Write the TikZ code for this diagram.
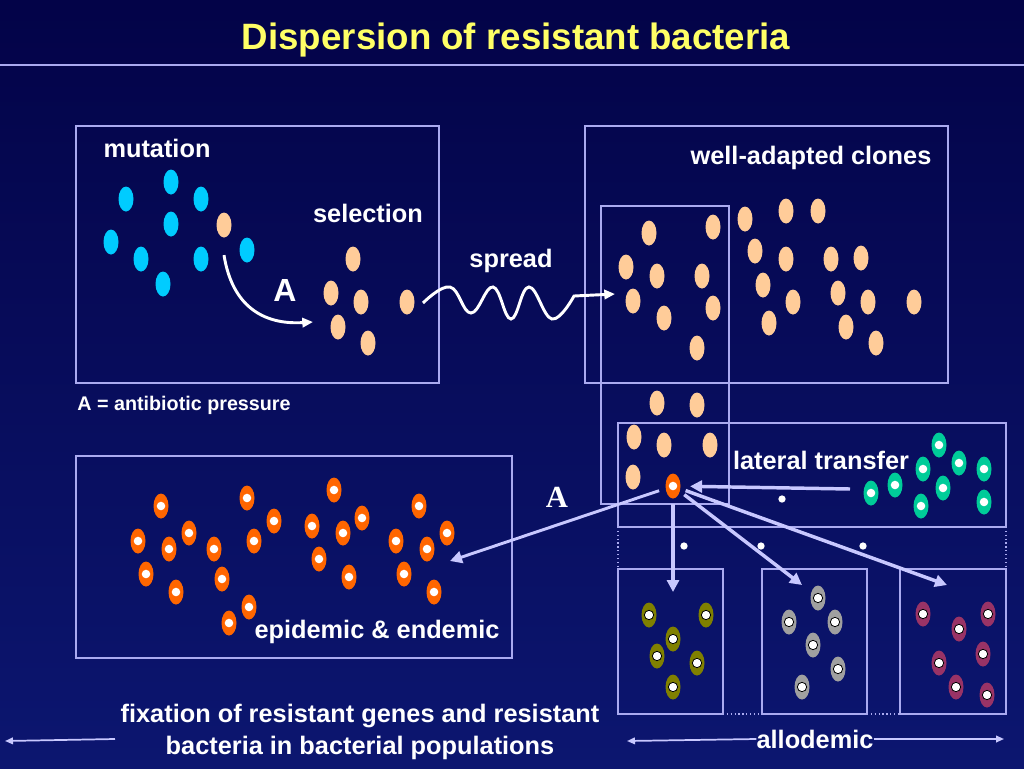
\documentclass[tikz,border=0pt]{standalone}
\usepackage{fontspec}
\setmainfont{Liberation Sans}
\newfontfamily\serifA{Liberation Serif}
\usetikzlibrary{shapes.geometric,arrows.meta,positioning}

\definecolor{bgtop}{RGB}{3,3,72}
\definecolor{bgbot}{RGB}{12,22,112}
\definecolor{boxline}{RGB}{170,170,240}
\definecolor{flowc}{RGB}{200,200,255}
\definecolor{titley}{RGB}{255,255,102}
\definecolor{cyanc}{RGB}{0,204,255}
\definecolor{peach}{RGB}{255,204,153}
\definecolor{orangec}{RGB}{255,102,0}
\definecolor{tealc}{RGB}{0,204,153}
\definecolor{olivec}{RGB}{128,128,0}
\definecolor{greyc}{RGB}{160,160,160}
\definecolor{plumc}{RGB}{153,51,102}

\tikzset{
  cell/.style={ellipse, minimum width=11.25pt, minimum height=18.75pt, inner sep=0pt},
  dotcell/.style={cell, fill=#1, path picture={\fill[white] (path picture bounding box.center) circle (3.2pt);}},
  ringcell/.style={cell, fill=#1, path picture={\filldraw[fill=white, draw=black, line width=0.6pt] (path picture bounding box.center) circle (3.5pt);}},
  box/.style={draw=boxline, line width=0.9pt},
  lbl/.style={text=white, inner sep=0pt, font=\fontsize{19}{24}\selectfont\bfseries},
  spot/.style={circle, fill=white, inner sep=0pt, minimum size=5.5pt},
  flow/.style={draw=flowc, line width=2.6pt, -{Triangle[length=9pt, width=9pt]}},
  flowthin/.style={draw=flowc, line width=1.3pt, -{Triangle[length=6pt, width=5pt]}},
  wiggle/.style={draw=white, line width=2.2pt, -{Triangle[length=8pt, width=7pt]}}
}

\begin{document}
\begin{tikzpicture}[x=0.75pt, y=-0.75pt]
  \shade[top color=bgtop, bottom color=bgbot] (0,0) rectangle (1024,768);
  \useasboundingbox (0,0) rectangle (1024,768);

  \node[text=titley, font=\fontsize{27.5}{33}\selectfont\bfseries] (title) at (516,40) {Dispersion of resistant bacteria};
  \draw[draw=boxline, line width=2pt] (0,65) -- (1024,65);

  \draw[box] (76,126) rectangle (439,383);
  \draw[box] (585,126) rectangle (948,383);
  \draw[box] (601,206) rectangle (729,504);
  \draw[box] (618,423) rectangle (1006,527);
  \draw[box] (76,456) rectangle (512,658);
  \draw[box] (618,569) rectangle (723,714);
  \draw[box] (762,569) rectangle (867,714);
  \draw[box] (900,569) rectangle (1006,714);
  \draw[box, dotted] (618,527) -- (618,569) (1006,527) -- (1006,569) (723,714) -- (762,714) (867,714) -- (900,714);

  \foreach \x/\y [count=\i] in {126/199, 171/182, 201/199, 171/224, 111/242, 141/259, 201/259, 163/284, 247/250}
    \node[cell, fill=cyanc] (mut\i) at (\x,\y) {};
  \node[cell, fill=peach] (mutant) at (224,225) {};
  \foreach \x/\y [count=\i] in {353/259, 331/293, 361/302, 407/302, 338/327, 368/343}
    \node[cell, fill=peach] (sel\i) at (\x,\y) {};

  \node[lbl] (mutation) at (157,148) {mutation};
  \node[lbl] (selection) at (368,213) {selection};
  \node[lbl, font=\fontsize{24}{28}\selectfont\bfseries] (pressA) at (285,290) {A};
  \node[lbl, font=\fontsize{14.8}{18}\selectfont\bfseries] (legend) at (184,405) {A = antibiotic pressure};

  \coordinate (selIn) at (313,322);
  \draw[wiggle] ([yshift=-13pt]mutant.south) .. controls (232,305) and (262,325) .. (selIn);

  \coordinate (spreadOut) at (423,303);
  \coordinate (spreadIn) at (615,294);
  \node[lbl] (spread) at (511,261) {spread};
  \draw[wiggle] plot[smooth, tension=0.7] coordinates {(spreadOut) (450,287) (471,313) (493,287) (511,319) (529,287) (552,319) (574,296)} -- (spreadIn);

  \node[lbl] (clones) at (811,158) {well-adapted clones};
  \foreach \x/\y [count=\i] in {649/233, 713/227, 626/267, 657/276, 702/276, 633/301, 713/308, 664/318, 697/348,
      657/403, 697/405, 634/437, 664/445, 710/445, 633/477}
    \node[cell, fill=peach] (clin\i) at (\x,\y) {};
  \foreach \x/\y [count=\i] in {745/219, 786/211, 818/211, 755/251, 786/259, 831/259, 861/258, 763/285,
      793/302, 838/293, 868/302, 914/302, 769/323, 846/327, 876/343}
    \node[cell, fill=peach] (clout\i) at (\x,\y) {};

  \node[dotcell=orangec] (res) at (673,486) {};

  \node[lbl] (lateral) at (821,460) {lateral transfer};
  \foreach \x/\y [count=\i] in {871/493, 895/485, 939/445, 923/469, 959/463, 943/488, 921/506, 984/469, 984/502}
    \node[dotcell=tealc] (donor\i) at (\x,\y) {};
  \coordinate (donor) at (850,489);
  \draw[flow, shorten >=7pt] (donor) -- (res);

  \node[spot] (spot1) at (782,499) {};
  \node[spot] (spot2) at (684,546) {};
  \node[spot] (spot3) at (761,546) {};
  \node[spot] (spot4) at (863,546) {};

  \node[text=white, font=\serifA\fontsize{23}{28}\selectfont\bfseries] (antiA) at (557,497) {A};

  \foreach \x/\y [count=\i] in {161/506, 138/541, 169/549, 189/533, 146/574, 176/592, 214/549, 222/579,
      247/498, 274/521, 254/541, 249/607, 229/623, 334/490, 312/526, 343/533, 362/518, 319/559,
      349/577, 419/506, 396/541, 427/549, 447/533, 404/574, 434/592}
    \node[dotcell=orangec] (epi\i) at (\x,\y) {};
  \node[lbl] (epidemic) at (377,632) {epidemic \& endemic};
  \coordinate (epiIn) at (450,561);
  \draw[flow, line width=2.2pt, shorten <=5pt] (res) -- (epiIn);

  \foreach \x/\y [count=\i] in {649/615, 706/615, 673/639, 657/656, 697/663, 673/687}
    \node[ringcell=olivec] (ol\i) at (\x,\y) {};
  \foreach \x/\y [count=\i] in {818/598, 789/622, 835/622, 813/645, 838/669, 802/687}
    \node[ringcell=greyc] (gr\i) at (\x,\y) {};
  \foreach \x/\y [count=\i] in {923/614, 988/614, 959/629, 983/654, 939/663, 956/687, 987/695}
    \node[ringcell=plumc] (pl\i) at (\x,\y) {};

  \coordinate (olIn) at (673,592);
  \coordinate (grIn) at (802,585);
  \coordinate (plIn) at (947,585);
  \draw[flow, shorten <=4pt] (res) -- (olIn);
  \draw[flow, shorten <=4pt] (res) -- (grIn);
  \draw[flow, shorten <=4pt] (res) -- (plIn);

  \node[lbl] (allo) at (815,739) {allodemic};
  \coordinate (alloL) at (627,741);
  \coordinate (alloR) at (1004,739);
  \draw[flowthin] (allo.west) -- (alloL);
  \draw[flowthin] (allo.east) -- (alloR);

  \node[lbl, align=center] (fixation) at (360,732) {fixation of resistant genes and resistant\\bacteria in bacterial populations};
  \coordinate (fixR) at (115,739);
  \coordinate (fixL) at (5,741);
  \draw[flowthin] (fixR) -- (fixL);
\end{tikzpicture}
\end{document}
